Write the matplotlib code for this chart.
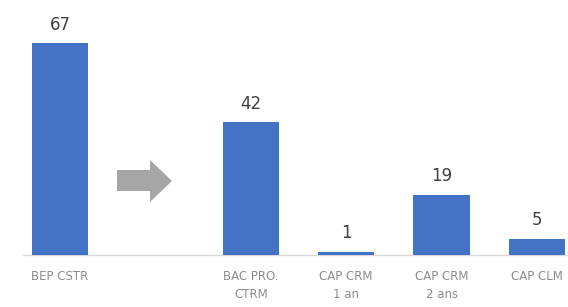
import matplotlib
matplotlib.use("Agg")
import matplotlib.pyplot as plt
from matplotlib.patches import Polygon

categories = ["BEP CSTR", "", "BAC PRO.\nCTRM", "CAP CRM\n1 an", "CAP CRM\n2 ans", "CAP CLM"]
values = [67, None, 42, 1, 19, 5]

W, H = 568, 307
fig = plt.figure(figsize=(W / 100, H / 100), dpi=100)
ax = fig.add_axes([0, 52 / H, 1, 255 / H])

xs = [i for i, v in enumerate(values) if v is not None]
vs = [v for v in values if v is not None]
bars = ax.bar(xs, vs, width=0.59, color="#4472C4", zorder=2)
for x, v in zip(xs, vs):
    ax.annotate(str(v), (x, v), xytext=(0, 7), textcoords="offset points",
                ha="center", va="bottom", fontsize=12, color="#404040")

ax.set_xlim(-0.629, 5.325)
ax.set_ylim(0, 80.7)
ax.plot([-0.39, 5.325], [0, 0], color="#d9d9d9", lw=1, zorder=1, clip_on=False)
for s in ax.spines.values():
    s.set_visible(False)
ax.set_yticks([])
ax.set_xticks(range(len(categories)))
ax.set_xticklabels(categories, fontsize=8.5, color="#8c8c8c", linespacing=1.45)
ax.tick_params(axis="x", length=0, pad=11)

def px(x, y):
    return (x / W, 1 - y / H)

arrow = [px(117, 170), px(150, 170), px(150, 160), px(172, 181),
         px(150, 202), px(150, 191), px(117, 191)]
fig.patches.append(Polygon(arrow, closed=True, transform=fig.transFigure,
                           facecolor="#a6a6a6", edgecolor="none"))

fig.savefig("out.png", dpi=100)
